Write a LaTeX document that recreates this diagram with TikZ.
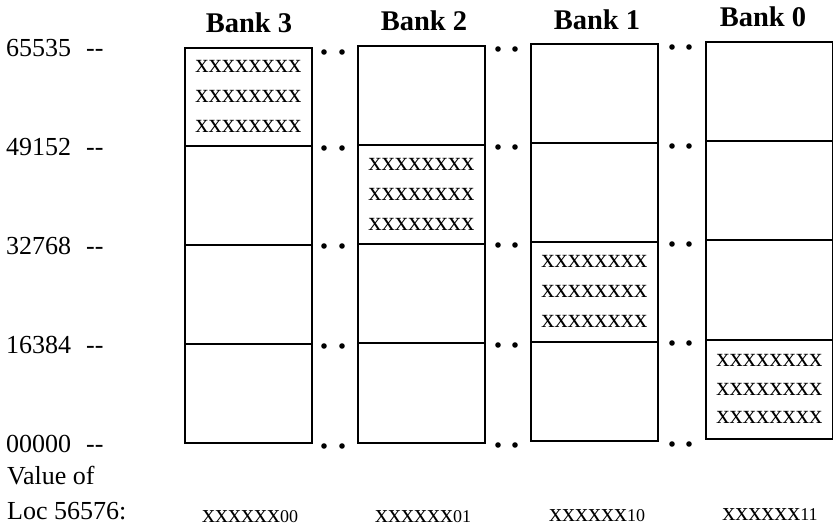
\documentclass[tikz,border=0pt]{standalone}
\usepackage{fontspec}
\setmainfont{Liberation Serif}
\begin{document}
\begin{tikzpicture}[x=1pt,y=-1pt,
  cell/.style={draw=black,line width=1.8pt,anchor=north west,inner sep=0pt,minimum width=127pt,
    align=center,font=\fontsize{26.5}{30}\selectfont},
  title/.style={anchor=base,inner sep=0pt,font=\fontsize{28.5}{30}\selectfont\bfseries},
  addr/.style={anchor=base west,inner sep=0pt,font=\fontsize{26}{30}\selectfont},
  val/.style={anchor=base,inner sep=0pt,font=\fontsize{26}{30}\selectfont},
  lbl/.style={anchor=base west,inner sep=0pt,font=\fontsize{26}{30}\selectfont},
  dot/.style={fill=black}]
\useasboundingbox (0,0) rectangle (833,527);
\newcommand{\xrows}{xxxxxxxx\\xxxxxxxx\\xxxxxxxx}
\newcommand{\sd}[1]{{\fontsize{18}{20}\selectfont #1}}
% Bank 3
\node[cell,minimum height=98pt]  (b3a) at (184,47)  {\xrows};
\node[cell,minimum height=99pt]  (b3b) at (184,145) {};
\node[cell,minimum height=99pt]  (b3c) at (184,244) {};
\node[cell,minimum height=99pt]  (b3d) at (184,343) {};
% Bank 2
\node[cell,minimum height=99pt]  (b2a) at (357,45)  {};
\node[cell,minimum height=99pt]  (b2b) at (357,144) {\xrows};
\node[cell,minimum height=99pt]  (b2c) at (357,243) {};
\node[cell,minimum height=100pt] (b2d) at (357,342) {};
% Bank 1
\node[cell,minimum height=99pt]  (b1a) at (530,43)  {};
\node[cell,minimum height=99pt]  (b1b) at (530,142) {};
\node[cell,minimum height=100pt] (b1c) at (530,241) {\xrows};
\node[cell,minimum height=99pt]  (b1d) at (530,341) {};
% Bank 0
\node[cell,minimum height=99pt]  (b0a) at (705,41)  {};
\node[cell,minimum height=99pt]  (b0b) at (705,140) {};
\node[cell,minimum height=100pt] (b0c) at (705,239) {};
\node[cell,minimum height=99pt,font=\fontsize{26.5}{28.5}\selectfont]  (b0d) at (705,339) {\xrows};
% titles
\node[title] (t3) at (249,33) {Bank 3};
\node[title] (t2) at (424,31) {Bank 2};
\node[title] (t1) at (597,30) {Bank 1};
\node[title] (t0) at (763,27) {Bank 0};
% address labels
\node[addr] (a4) at (6,57)  {65535\hspace{15pt}-{}-};
\node[addr] (a3) at (6,155) {49152\hspace{15pt}-{}-};
\node[addr] (a2) at (6,254) {32768\hspace{15pt}-{}-};
\node[addr] (a1) at (6,353) {16384\hspace{15pt}-{}-};
\node[addr] (a0) at (6,452) {00000\hspace{15pt}-{}-};
% dots
\foreach \y in {52,148,246,346,446} {\fill[dot] (324,\y) circle (2.8pt); \fill[dot] (342,\y) circle (2.8pt);}
\foreach \y in {49,147,245,345,445} {\fill[dot] (498,\y) circle (2.8pt); \fill[dot] (515,\y) circle (2.8pt);}
\foreach \y in {47,146,244,343,444} {\fill[dot] (672,\y) circle (2.8pt); \fill[dot] (689,\y) circle (2.8pt);}
% value labels
\node[lbl] (v1) at (7,484) {Value of};
\node[lbl] (v2) at (7,519) {Loc 56576:};
\node[val] (v3) at (250,522) {xxxxxx\sd{00}};
\node[val] (v2b) at (423,522) {xxxxxx\sd{01}};
\node[val] (v1b) at (597,521) {xxxxxx\sd{10}};
\node[val] (v0) at (770,520) {xxxxxx\sd{11}};
\end{tikzpicture}
\end{document}
